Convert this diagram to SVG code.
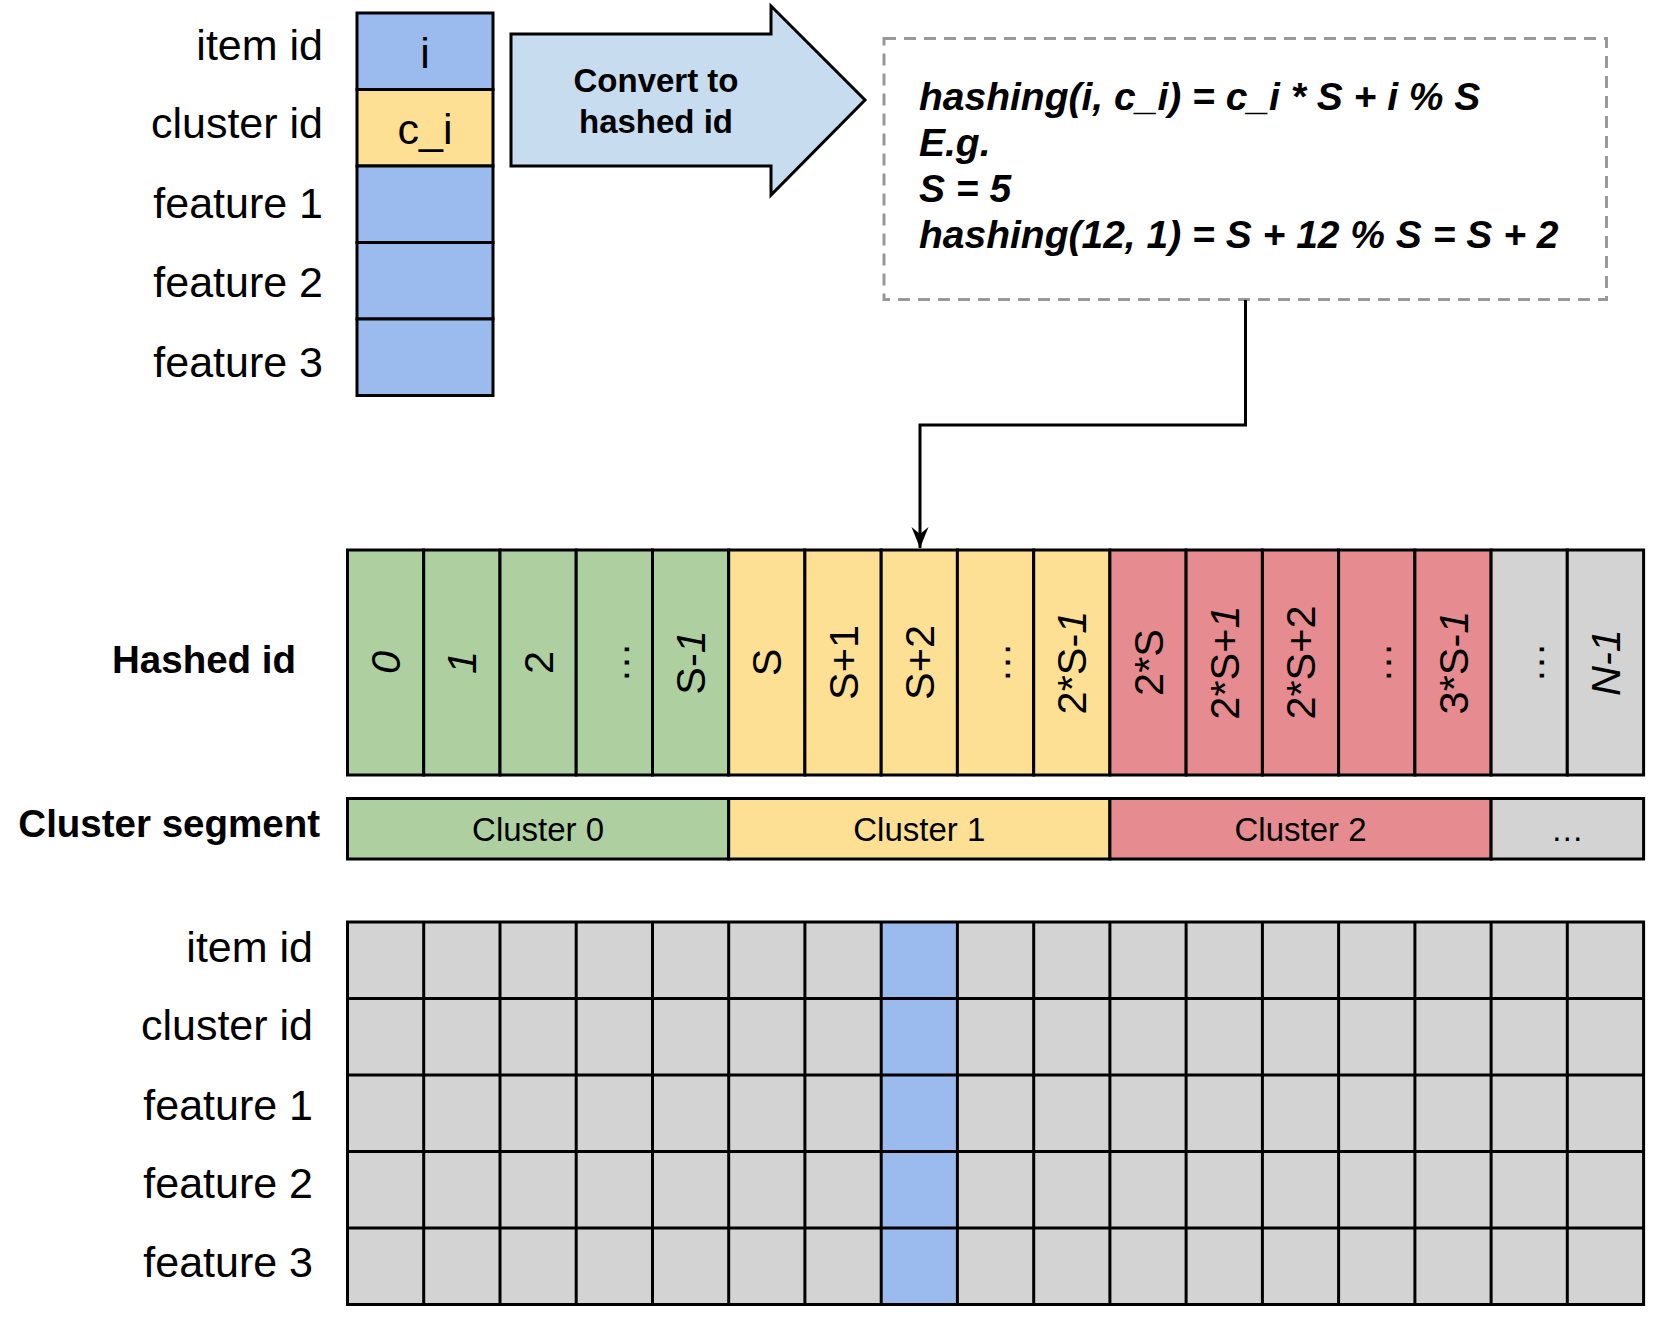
<svg xmlns="http://www.w3.org/2000/svg" width="1666" height="1328" viewBox="0 0 1666 1328">
<style>
.lbl{font-family:"Liberation Sans",Arial,sans-serif;font-size:43px;fill:#000;text-anchor:end}
.bold{font-family:"Liberation Sans",Arial,sans-serif;font-weight:bold;fill:#000}
.cell{stroke:#000;stroke-width:3}
.blue{fill:#9bbbef}.yel{fill:#fee094}.grn{fill:#aed0a1}.red{fill:#e68b8f}.gry{fill:#d3d3d3}
.rot{font-family:"Liberation Sans",Arial,sans-serif;font-size:41.5px;fill:#000;text-anchor:middle}
.it{font-style:italic}
.cl{font-family:"Liberation Sans",Arial,sans-serif;font-size:33px;fill:#000;text-anchor:middle}
.conn{fill:none;stroke:#000;stroke-width:3}
</style>
<defs>
<marker id="ah" viewBox="0 -10 22 20" refX="21" refY="0" markerWidth="22" markerHeight="20" markerUnits="userSpaceOnUse" orient="auto">
<path d="M0,-8.5 L21,0 L0,8.5 L7,0 Z" fill="#000"/>
</marker>
</defs>
<rect width="1666" height="1328" fill="#fff"/>

<g id="item-labels-top">
<text class="lbl" x="323" y="60">item id</text>
<text class="lbl" x="323" y="138">cluster id</text>
<text class="lbl" x="323" y="218">feature 1</text>
<text class="lbl" x="323" y="297">feature 2</text>
<text class="lbl" x="323" y="377">feature 3</text>
</g>

<g id="item-record">
<rect class="cell blue" x="357" y="13" width="136" height="76.5"/>
<rect class="cell yel" x="357" y="89.5" width="136" height="76.5"/>
<rect class="cell blue" x="357" y="166" width="136" height="76.5"/>
<rect class="cell blue" x="357" y="242.5" width="136" height="76.5"/>
<rect class="cell blue" x="357" y="319" width="136" height="76.5"/>
<text class="lbl" style="text-anchor:middle" x="425" y="68">i</text>
<text class="lbl" style="text-anchor:middle" x="425" y="144">c_i</text>
</g>

<g id="convert-arrow">
<path d="M511,34 L771,34 L771,6 L865,100 L771,195 L771,166 L511,166 Z" fill="#c8dcf0" stroke="#000" stroke-width="3" stroke-linejoin="miter"/>
<text class="bold" font-size="33" text-anchor="middle" x="656" y="92">Convert to</text>
<text class="bold" font-size="33" text-anchor="middle" x="656" y="133">hashed id</text>
</g>

<g id="formula-box">
<rect x="884" y="38.5" width="722.5" height="261" fill="none" stroke="#999" stroke-width="3" stroke-dasharray="12 8"/>
<g class="bold it" font-size="39">
<text x="919" y="110">hashing(i, c_i) = c_i * S + i % S</text>
<text x="919" y="156">E.g.</text>
<text x="919" y="202">S = 5</text>
<text x="919" y="248">hashing(12, 1) = S + 12 % S = S + 2</text>
</g>
</g>

<g id="connectors">
<path class="conn" d="M1245.5,300 L1245.5,425 L920,425 L920,548" marker-end="url(#ah)"/>
</g>

<g id="hashed-id-label">
<text class="bold" font-size="38.5" text-anchor="end" x="296" y="673">Hashed id</text>
</g>
<g id="cluster-segment-label">
<text class="bold" font-size="38.5" text-anchor="end" x="320" y="837">Cluster segment</text>
</g>

<g id="hashed-id-row">
<rect class="cell grn" x="347.5" y="550" width="76.2" height="225"/>
<rect class="cell grn" x="423.7" y="550" width="76.3" height="225"/>
<rect class="cell grn" x="500" y="550" width="76.2" height="225"/>
<rect class="cell grn" x="576.2" y="550" width="76.3" height="225"/>
<rect class="cell grn" x="652.5" y="550" width="76.2" height="225"/>
<rect class="cell yel" x="728.7" y="550" width="76.2" height="225"/>
<rect class="cell yel" x="804.9" y="550" width="76.3" height="225"/>
<rect class="cell yel" x="881.2" y="550" width="76.2" height="225"/>
<rect class="cell yel" x="957.4" y="550" width="76.3" height="225"/>
<rect class="cell yel" x="1033.7" y="550" width="76.2" height="225"/>
<rect class="cell red" x="1109.9" y="550" width="76.2" height="225"/>
<rect class="cell red" x="1186.1" y="550" width="76.3" height="225"/>
<rect class="cell red" x="1262.4" y="550" width="76.2" height="225"/>
<rect class="cell red" x="1338.6" y="550" width="76.3" height="225"/>
<rect class="cell red" x="1414.9" y="550" width="76.2" height="225"/>
<rect class="cell gry" x="1491.1" y="550" width="76.2" height="225"/>
<rect class="cell gry" x="1567.3" y="550" width="76.3" height="225"/>
<text class="rot it" transform="translate(385.6,662.5) rotate(-90)" dy="14.5">0</text>
<text class="rot it" transform="translate(461.9,662.5) rotate(-90)" dy="14.5">1</text>
<text class="rot" transform="translate(538.1,662.5) rotate(-90)" dy="14.5">2</text>
<text class="rot" transform="translate(614.3,662.5) rotate(-90)" dy="14.5">…</text>
<text class="rot" transform="translate(690.6,662.5) rotate(-90)" dy="14.5">S-<tspan class="it">1</tspan></text>
<text class="rot" transform="translate(766.8,662.5) rotate(-90)" dy="14.5">S</text>
<text class="rot" transform="translate(843.1,662.5) rotate(-90)" dy="14.5">S+1</text>
<text class="rot" transform="translate(919.3,662.5) rotate(-90)" dy="14.5">S+2</text>
<text class="rot" transform="translate(995.5,662.5) rotate(-90)" dy="14.5">…</text>
<text class="rot" transform="translate(1071.8,662.5) rotate(-90)" dy="14.5">2*S-<tspan class="it">1</tspan></text>
<text class="rot" transform="translate(1148,662.5) rotate(-90)" dy="14.5">2*S</text>
<text class="rot" transform="translate(1224.3,662.5) rotate(-90)" dy="14.5">2*S+<tspan class="it">1</tspan></text>
<text class="rot" transform="translate(1300.5,662.5) rotate(-90)" dy="14.5">2*S+2</text>
<text class="rot" transform="translate(1376.7,662.5) rotate(-90)" dy="14.5">…</text>
<text class="rot" transform="translate(1453,662.5) rotate(-90)" dy="14.5">3*S-<tspan class="it">1</tspan></text>
<text class="rot" transform="translate(1529.2,662.5) rotate(-90)" dy="14.5">…</text>
<text class="rot it" transform="translate(1605.5,662.5) rotate(-90)" dy="14.5">N-1</text>
</g>

<g id="cluster-segment-row">
<rect class="cell grn" x="347.5" y="798.5" width="381.2" height="60.5"/>
<rect class="cell yel" x="728.7" y="798.5" width="381.2" height="60.5"/>
<rect class="cell red" x="1109.9" y="798.5" width="381.2" height="60.5"/>
<rect class="cell gry" x="1491.1" y="798.5" width="152.5" height="60.5"/>
<text class="cl" x="538.1" y="841">Cluster 0</text>
<text class="cl" x="919.3" y="841">Cluster 1</text>
<text class="cl" x="1300.5" y="841">Cluster 2</text>
<text class="cl" x="1567.3" y="841">…</text>
</g>

<g id="item-labels-bottom">
<text class="lbl" x="313" y="962">item id</text>
<text class="lbl" x="313" y="1040">cluster id</text>
<text class="lbl" x="313" y="1120">feature 1</text>
<text class="lbl" x="313" y="1198">feature 2</text>
<text class="lbl" x="313" y="1277">feature 3</text>
</g>

<g id="embedding-table">
<rect class="gry" x="347.5" y="922" width="1296.1" height="382.5"/>
<rect class="blue" x="881.2" y="922" width="76.2" height="382.5"/>
<g stroke="#000" stroke-width="3" fill="none">
<rect x="347.5" y="922" width="1296.1" height="382.5"/>
<path d="M347.5,998.5 H1643.6 M347.5,1075 H1643.6 M347.5,1151.5 H1643.6 M347.5,1228 H1643.6"/>
<path d="M423.7,922 V1304.5 M500,922 V1304.5 M576.2,922 V1304.5 M652.5,922 V1304.5 M728.7,922 V1304.5 M804.9,922 V1304.5 M881.2,922 V1304.5 M957.4,922 V1304.5 M1033.7,922 V1304.5 M1109.9,922 V1304.5 M1186.1,922 V1304.5 M1262.4,922 V1304.5 M1338.6,922 V1304.5 M1414.9,922 V1304.5 M1491.1,922 V1304.5 M1567.3,922 V1304.5"/>
</g>
</g>
</svg>
